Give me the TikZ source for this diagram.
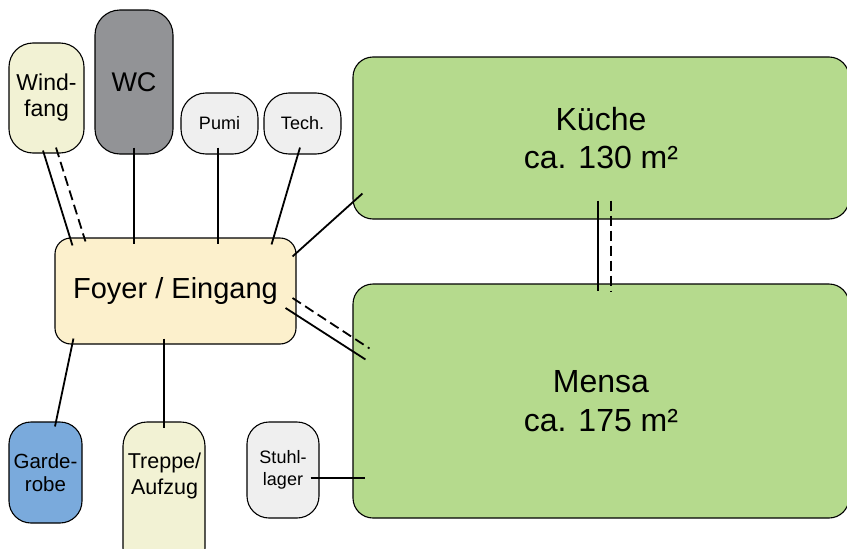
\documentclass[tikz,border=0pt]{standalone}
\usepackage{fontspec}
\setmainfont{Liberation Sans}
\definecolor{windcol}{HTML}{F2F2D4}
\definecolor{wccol}{HTML}{929396}
\definecolor{techcol}{HTML}{EFEFEF}
\definecolor{foyercol}{HTML}{FCF0CC}
\definecolor{mensacol}{HTML}{B5DA8D}
\definecolor{gardecol}{HTML}{7AAADC}

\begin{document}
\begin{tikzpicture}[x=10pt,y=-10pt,
	room/.style={draw, line width=1.1pt, rounded corners=#1, align=center, inner sep=0pt},
	room/.default=22pt,
	link/.style={line width=1.8pt},
	door/.style={link, dash pattern=on 10pt off 5pt}]
	\useasboundingbox (0,0) rectangle (84.7,54.9);
	% rooms
	\node[room=24pt, fill=windcol, minimum width=75pt, minimum height=110pt, font=\fontsize{23}{26}\selectfont] (wind) at (4.65,9.8) {Wind-\\fang};
	\node[room=25pt, fill=wccol, minimum width=78pt, minimum height=144pt, font=\fontsize{27}{32}\selectfont] (wc) at (13.4,8.2) {WC};
	\node[room=25pt, fill=techcol, minimum width=77pt, minimum height=61pt, font=\fontsize{18}{21}\selectfont] (pumi) at (21.95,12.35) {Pumi};
	\node[room=25pt, fill=techcol, minimum width=77pt, minimum height=61pt, font=\fontsize{18}{21}\selectfont] (tech) at (30.25,12.35) {Tech.};
	\node[room=16pt, fill=foyercol, minimum width=241pt, minimum height=106pt, font=\fontsize{29}{34}\selectfont] (foyer) at (17.55,29.1) {Foyer / Eingang};
	\node[room=20pt, fill=mensacol, minimum width=496pt, minimum height=162pt, font=\fontsize{32}{38}\selectfont] (kueche) at (60.1,13.8) {Küche\\ca. 130 m²};
	\node[room=20pt, fill=mensacol, minimum width=496pt, minimum height=234pt, font=\fontsize{32}{39}\selectfont] (mensa) at (60.1,40.1) {Mensa\\ca. 175 m²};
	\node[room, fill=gardecol, minimum width=73pt, minimum height=101pt, font=\fontsize{20.5}{23}\selectfont] (garde) at (4.55,47.25) {Garde-\\robe};
	\node[room=24pt, fill=windcol, minimum width=82pt, minimum height=150pt] (treppe) at (16.4,49.7) {};
	\node[font=\fontsize{21.5}{26}\selectfont, align=center, inner sep=0pt] (treppe-txt) at (16.45,47.6) {Treppe/\\Aufzug};
	\node[room, fill=techcol, minimum width=72pt, minimum height=96pt, font=\fontsize{18}{21.7}\selectfont] (stuhl) at (28.3,47.0) {Stuhl-\\lager};
	% connections
	\draw[link] ([xshift=-3.5pt,yshift=3pt]wind.south) -- ([xshift=18pt,yshift=-8pt]foyer.north west);
	\draw[door] ([xshift=9.5pt,yshift=6pt]wind.south) -- ([xshift=31pt,yshift=-4pt]foyer.north west);
	\draw[link] ([yshift=7pt]wc.south) -- ([yshift=-7pt]wc.south |- foyer.north);
	\draw[link] ([xshift=-1.2pt,yshift=7pt]pumi.south) -- ([xshift=-1.2pt,yshift=-7pt]pumi.south |- foyer.north);
	\draw[link] ([xshift=-2.5pt,yshift=7pt]tech.south) -- ([xshift=-25pt,yshift=-7pt]foyer.north east);
	\draw[link] ([xshift=-4pt,yshift=-19pt]foyer.north east) -- ([xshift=10pt,yshift=26pt]kueche.south west);
	\draw[link] ([xshift=-11pt,yshift=-17pt]foyer.east) -- ([xshift=13pt,yshift=-76pt]mensa.north west);
	\draw[door] ([xshift=-4pt,yshift=-7pt]foyer.east) -- ([xshift=17pt,yshift=-65pt]mensa.north west);
	\draw[link] ([xshift=19pt,yshift=6pt]foyer.south west) -- ([xshift=9.5pt,yshift=-5pt]garde.north);
	\draw[link] ([yshift=6pt]treppe.north |- foyer.south) -- ([yshift=-7pt]treppe.north);
	\coordinate (stuhl-door) at ([xshift=-9pt,yshift=-8pt]stuhl.east);
	\draw[link] (stuhl-door) -- ([xshift=12.5pt]mensa.west |- stuhl-door);
	\draw[link] ([xshift=-2.7pt,yshift=19pt]kueche.south) -- ([xshift=-2.7pt,yshift=-8pt]mensa.north);
	\draw[door] ([xshift=10pt,yshift=19pt]kueche.south) -- ([xshift=10pt,yshift=-8pt]mensa.north);
\end{tikzpicture}
\end{document}
